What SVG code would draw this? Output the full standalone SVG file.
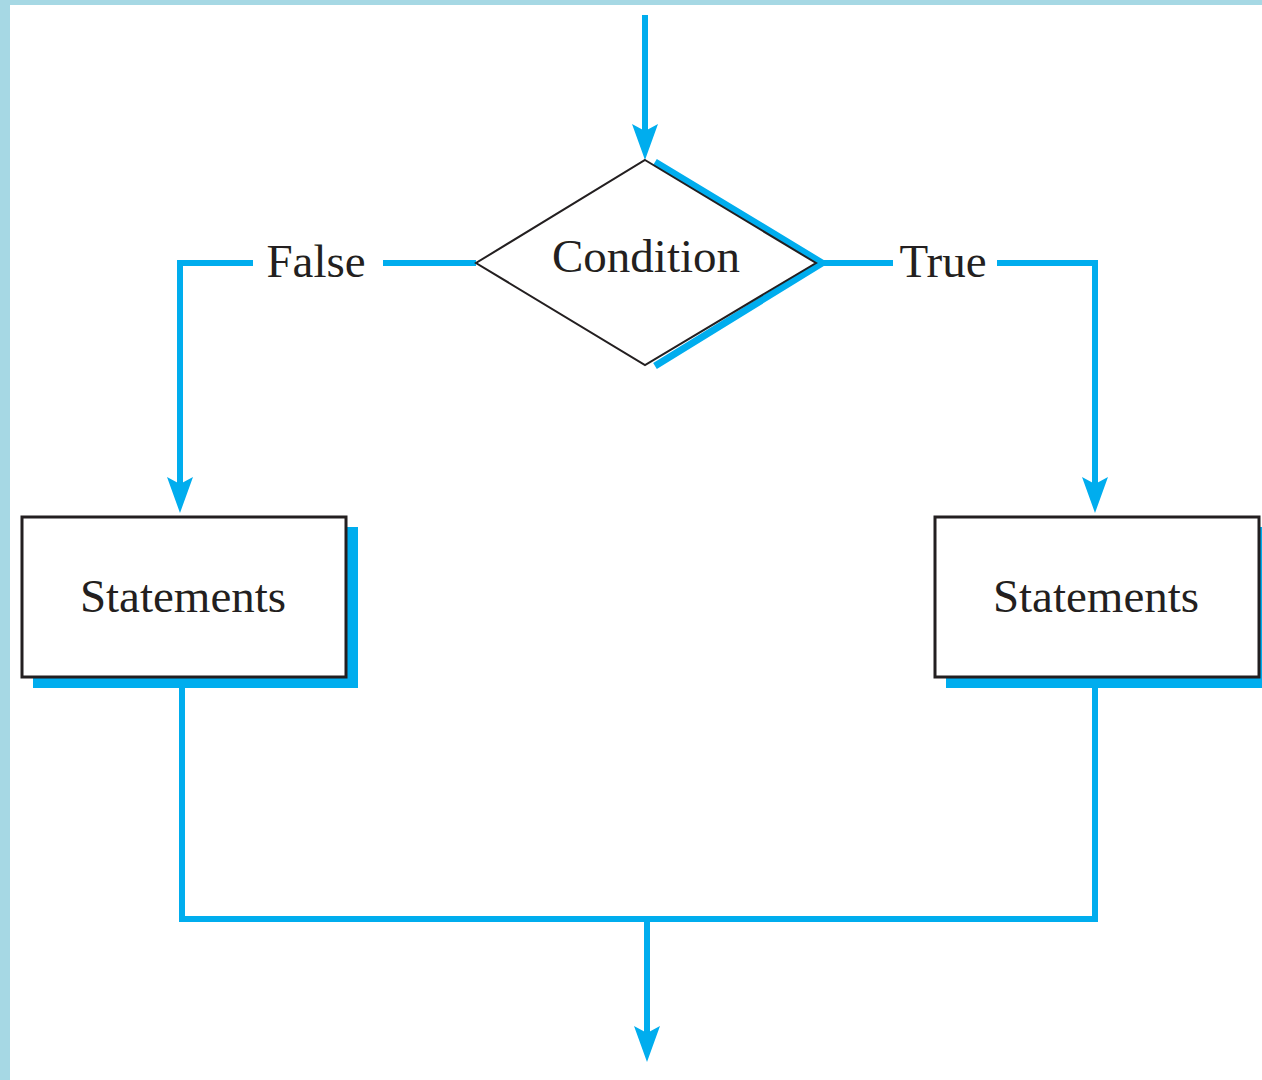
<svg xmlns="http://www.w3.org/2000/svg" width="1262" height="1080" viewBox="0 0 1262 1080">
<style>
.conn{fill:none;stroke:#00adee;stroke-width:6}
.box{fill:#fff;stroke:#231f20;stroke-width:3}
.shadow{fill:#00adee}
.lbl{font-family:"Liberation Serif","Times New Roman",serif;font-size:47px;fill:#231f20;text-anchor:middle}
</style>
<defs>
<marker id="ah" viewBox="0 -14 36 28" refX="7" refY="0" markerWidth="36" markerHeight="28" markerUnits="userSpaceOnUse" orient="auto">
<path d="M0,-13 L36,0 L0,13 L7,0 Z" fill="#00adee"/>
</marker>
</defs>
<rect x="0" y="0" width="1262" height="1080" fill="#fff"/>
<rect x="0" y="0" width="1262" height="5" fill="#a6d8e4"/>
<rect x="0" y="0" width="10" height="1080" fill="#a6d8e4"/>
<g id="connectors">
<path class="conn" d="M645,15 V131" marker-end="url(#ah)"/>
<path class="conn" d="M476,263 H383"/>
<path class="conn" d="M253,263 H180 V484" marker-end="url(#ah)"/>
<path class="conn" d="M818,263 H893"/>
<path class="conn" d="M997,263 H1095 V484" marker-end="url(#ah)"/>
<path class="conn" d="M182,688 V919 H1095 V688"/>
<path class="conn" d="M647,919 V1033" marker-end="url(#ah)"/>
</g>
<g id="condition">
<polyline points="655,162 822,263 655,366" fill="none" stroke="#00adee" stroke-width="7"/>
<polygon points="645,160 816,263 645,365 476,263" fill="#fff" stroke="#231f20" stroke-width="2"/>
<text class="lbl" x="646" y="272">Condition</text>
</g>
<g id="label-false"><text class="lbl" x="316" y="277">False</text></g>
<g id="label-true"><text class="lbl" x="943" y="277">True</text></g>
<g id="statements-false">
<rect class="shadow" x="33" y="527" width="325" height="161"/>
<rect class="box" x="22" y="517" width="324" height="160"/>
<text class="lbl" x="183" y="612">Statements</text>
</g>
<g id="statements-true">
<rect class="shadow" x="946" y="527" width="325" height="161"/>
<rect class="box" x="935" y="517" width="324" height="160"/>
<text class="lbl" x="1096" y="612">Statements</text>
</g>
</svg>
